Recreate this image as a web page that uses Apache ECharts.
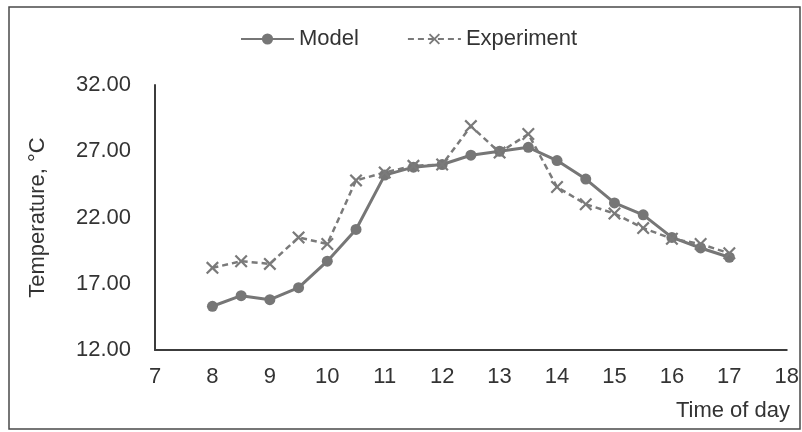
<!DOCTYPE html>
<html>
<head>
<meta charset="utf-8">
<script src="https://cdn.jsdelivr.net/npm/echarts@6/dist/echarts.min.js"></script>
<style>html,body{margin:0;padding:0;background:#fff;}#c{width:802px;height:432px;}</style>
</head>
<body>
<div id="c"></div>
<script>
var times = [8, 8.5, 9, 9.5, 10, 10.5, 11, 11.5, 12, 12.5, 13, 13.5, 14, 14.5, 15, 15.5, 16, 16.5, 17];
var modelTemps = [15.3, 16.1, 15.8, 16.7, 18.7, 21.1, 25.2, 25.8, 26.0, 26.7, 27.0, 27.3, 26.3, 24.9, 23.1, 22.2, 20.5, 19.7, 19.0];
var experimentTemps = [18.2, 18.7, 18.5, 20.5, 20.0, 24.8, 25.4, 25.9, 26.0, 28.9, 26.9, 28.3, 24.3, 23.0, 22.3, 21.2, 20.4, 20.0, 19.3];
var seriesNames = ['Model', 'Experiment'];
var yTicks = {min: 12, max: 32, interval: 5};
var xTicks = {min: 7, max: 18, interval: 1};
var xTitle = 'Time of day';
var yTitle = 'Temperature, °C';

function pairs(xs, ys) { return xs.map(function (x, i) { return [x, ys[i]]; }); }

var FONT = 'Liberation Sans, Arial, sans-serif';
var chart = echarts.init(document.getElementById('c'), null, {renderer: 'canvas'});
var xPath = 'path://M0,1.2 L1.2,0 L5,3.8 L8.8,0 L10,1.2 L6.2,5 L10,8.8 L8.8,10 L5,6.2 L1.2,10 L0,8.8 L3.8,5 Z';
chart.setOption({
  animation: false,
  backgroundColor: '#fff',
  textStyle: {fontFamily: FONT},
  legend: {
    left: 235, top: 23, itemWidth: 53, itemHeight: 14, itemGap: 48,
    textStyle: {fontFamily: FONT, fontSize: 22, color: '#333'},
    data: seriesNames
  },
  grid: {left: 155, right: 15, top: 85, bottom: 82},
  xAxis: {
    type: 'value', min: xTicks.min, max: xTicks.max, interval: xTicks.interval,
    axisLine: {show: true, lineStyle: {color: '#3c3c3c', width: 2}},
    axisTick: {show: false},
    splitLine: {show: false},
    axisLabel: {fontFamily: FONT, fontSize: 22, color: '#333', margin: 16}
  },
  yAxis: {
    type: 'value', min: yTicks.min, max: yTicks.max, interval: yTicks.interval,
    name: yTitle, nameLocation: 'middle', nameRotate: 90, nameGap: 106,
    nameTextStyle: {fontFamily: FONT, fontSize: 22, color: '#333'},
    axisLine: {show: true, lineStyle: {color: '#3c3c3c', width: 2}},
    axisTick: {show: false},
    splitLine: {show: false},
    axisLabel: {fontFamily: FONT, fontSize: 22, color: '#333', margin: 24,
      formatter: function (v) { return v.toFixed(2); }}
  },
  graphic: [
    {type: 'rect', shape: {x: 9, y: 7, width: 791, height: 422},
     style: {fill: 'none', stroke: '#4a4a4a', lineWidth: 1.5}, z: -1},
    {type: 'text', right: 12, top: 400,
     style: {text: xTitle, font: '22px ' + FONT, fill: '#333'}}
  ],
  series: [
    {
      name: seriesNames[0], type: 'line', data: pairs(times, modelTemps),
      symbol: 'circle', symbolSize: 11,
      lineStyle: {color: '#767676', width: 3},
      itemStyle: {color: '#767676'}
    },
    {
      name: seriesNames[1], type: 'line', data: pairs(times, experimentTemps),
      symbol: xPath, symbolSize: 13,
      lineStyle: {color: '#7a7a7a', width: 2.5, type: [6, 4]},
      itemStyle: {color: '#7a7a7a'}
    }
  ]
});
</script>
</body>
</html>
